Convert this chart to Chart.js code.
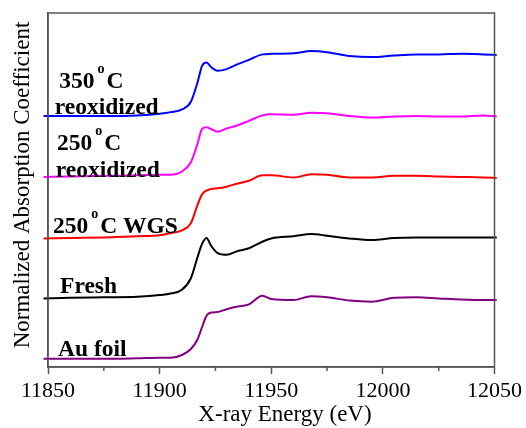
<!DOCTYPE html>
<html>
<head>
<meta charset="utf-8">
<title>Au L3-edge XANES</title>
<script src="https://cdn.jsdelivr.net/npm/chart.js@4.4.0/dist/chart.umd.min.js"></script>
<style>
    body { margin: 0; background: #fff; }
    canvas { display: block; }
</style>
</head>
<body>
<canvas id="xanes-chart" width="526" height="428"></canvas>
<script>
// Photon energy grid (eV), shared by every spectrum
const energy = [11848, 11860, 11875, 11890, 11900, 11905, 11910, 11914, 11917, 11919,
    11921, 11923, 11926, 11930, 11935, 11940, 11946, 11950, 11960, 11968,
    11975, 11985, 11995, 12005, 12015, 12025, 12035, 12045, 12051];

// Normalized absorption, each spectrum already stacked with its vertical offset
const auFoil = [0.15, 0.15, 0.15, 0.16, 0.17, 0.17, 0.22, 0.33, 0.51, 0.73,
    0.94, 1.00, 1.01, 1.06, 1.11, 1.15, 1.31, 1.25, 1.23, 1.30,
    1.28, 1.22, 1.20, 1.27, 1.28, 1.26, 1.24, 1.23, 1.23];
const fresh = [1.26, 1.27, 1.28, 1.29, 1.32, 1.35, 1.42, 1.63, 2.02, 2.26,
    2.37, 2.23, 2.09, 2.06, 2.13, 2.18, 2.30, 2.36, 2.40, 2.44,
    2.41, 2.36, 2.33, 2.37, 2.38, 2.38, 2.38, 2.38, 2.38];
const wgs250 = [2.36, 2.37, 2.38, 2.40, 2.42, 2.46, 2.51, 2.64, 2.98, 3.17,
    3.24, 3.27, 3.28, 3.31, 3.37, 3.42, 3.52, 3.52, 3.48, 3.54,
    3.53, 3.48, 3.48, 3.51, 3.51, 3.50, 3.49, 3.48, 3.47];
const reox250 = [3.49, 3.50, 3.51, 3.52, 3.53, 3.53, 3.59, 3.76, 4.10, 4.37,
    4.40, 4.37, 4.32, 4.38, 4.44, 4.52, 4.62, 4.64, 4.63, 4.67,
    4.66, 4.61, 4.58, 4.60, 4.61, 4.60, 4.60, 4.62, 4.60];
const reox350 = [4.61, 4.61, 4.61, 4.62, 4.65, 4.68, 4.73, 4.87, 5.23, 5.53,
    5.59, 5.51, 5.44, 5.47, 5.56, 5.64, 5.74, 5.75, 5.76, 5.80,
    5.78, 5.71, 5.69, 5.72, 5.74, 5.74, 5.75, 5.74, 5.73];

const xTicks = [11850, 11900, 11950, 12000, 12050];

// Sample names written next to the curves ("°" is drawn as a raised "o")
const sampleLabels = [
    { text: '350°C', x: 11855, y: 5.12 },
    { text: 'reoxidized', x: 11853, y: 4.65 },
    { text: '250°C', x: 11854, y: 3.98 },
    { text: 'reoxidized', x: 11853.5, y: 3.49 },
    { text: '250°C WGS', x: 11852.2, y: 2.46 },
    { text: 'Fresh', x: 11855.4, y: 1.36 },
    { text: 'Au foil', x: 11854.5, y: 0.20 }
];

const SERIF = '"Liberation Serif", "Times New Roman", serif';
const FRAME = '#555';

const toPoints = (ys) => ys.map((y, i) => ({ x: energy[i], y: y }));

const series = [
    { label: 'Au foil', data: auFoil, color: '#800080' },
    { label: 'Fresh', data: fresh, color: '#000000' },
    { label: '250°C WGS', data: wgs250, color: '#ff0000' },
    { label: '250°C reoxidized', data: reox250, color: '#ff00ff' },
    { label: '350°C reoxidized', data: reox350, color: '#0000ff' }
];

const drawSampleLabel = (ctx, text, x, y) => {
    const parts = text.split('°');
    let cx = x;
    parts.forEach((part, i) => {
        if (i > 0) {
            ctx.font = 'bold 14px ' + SERIF;
            cx += 3;
            ctx.fillText('o', cx, y - 15);
            cx += ctx.measureText('o').width + 2;
        }
        ctx.font = 'bold 23.5px ' + SERIF;
        ctx.fillText(part, cx, y);
        cx += ctx.measureText(part).width;
    });
};

const decorations = {
    id: 'decorations',
    afterDatasetsDraw: (chart) => {
        const { ctx, chartArea: area, scales: { x, y } } = chart;
        ctx.save();

        // box around the plot
        ctx.strokeStyle = FRAME;
        ctx.lineWidth = 1.5;
        ctx.strokeRect(area.left, area.top, area.right - area.left, area.bottom - area.top);

        // short minor ticks halfway between labelled ones
        ctx.beginPath();
        for (let i = 0; i < xTicks.length - 1; i++) {
            const px = x.getPixelForValue((xTicks[i] + xTicks[i + 1]) / 2);
            ctx.moveTo(px, area.bottom);
            ctx.lineTo(px, area.bottom + 4);
        }
        ctx.stroke();

        ctx.fillStyle = '#000';
        ctx.textBaseline = 'alphabetic';
        ctx.textAlign = 'left';
        sampleLabels.forEach(l => {
            drawSampleLabel(ctx, l.text, x.getPixelForValue(l.x), y.getPixelForValue(l.y));
        });

        // axis titles
        ctx.font = '23px ' + SERIF;
        ctx.textAlign = 'center';
        ctx.fillText('X-ray Energy (eV)', 285, 421);

        ctx.translate(29, 185);
        ctx.rotate(-Math.PI / 2);
        ctx.fillText('Normalized Absorption Coefficient', 0, 0);

        ctx.restore();
    }
};

new Chart(document.getElementById('xanes-chart'), {
    type: 'line',
    data: {
        datasets: series.map(s => ({
            label: s.label,
            data: toPoints(s.data),
            borderColor: s.color,
            borderWidth: 2,
            pointRadius: 0,
            fill: false,
            cubicInterpolationMode: 'monotone',
            clip: false
        }))
    },
    options: {
        responsive: false,
        devicePixelRatio: 1,
        animation: false,
        layout: { padding: { top: 13, right: 31, left: 0, bottom: 0 } },
        plugins: {
            legend: { display: false },
            tooltip: { enabled: false }
        },
        scales: {
            x: {
                type: 'linear',
                min: 11850,
                max: 12050,
                afterBuildTicks: (scale) => {
                    scale.ticks = xTicks.map(v => ({ value: v }));
                },
                afterFit: (scale) => { scale.height = 61; },
                ticks: {
                    color: '#000',
                    font: { family: SERIF, size: 22 },
                    padding: 4,
                    maxRotation: 0,
                    autoSkip: false,
                    callback: (v) => String(v)
                },
                grid: {
                    drawOnChartArea: false,
                    tickLength: 7,
                    tickWidth: 1.5,
                    tickColor: FRAME
                },
                border: { color: FRAME, width: 1.5 }
            },
            y: {
                min: 0,
                max: 6.5,
                afterFit: (scale) => { scale.width = 48; },
                ticks: { display: false },
                grid: { display: false },
                border: { color: FRAME, width: 1.5 }
            }
        }
    },
    plugins: [decorations]
});
</script>
</body>
</html>
